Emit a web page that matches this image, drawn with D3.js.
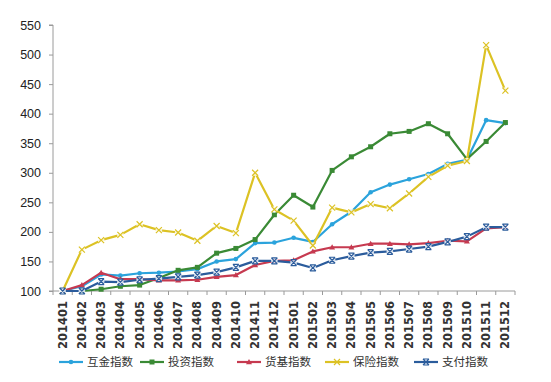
<!DOCTYPE html>
<html><head><meta charset="utf-8">
<script src="https://cdn.jsdelivr.net/npm/d3@7"></script>
<style>body{margin:0;background:#fff}svg{display:block}</style>
</head><body>
<svg id="c" width="551" height="382"></svg>
<script>
const categories = ["201401","201402","201403","201404","201405","201406","201407","201408","201409","201410","201411","201412","201501","201502","201503","201504","201505","201506","201507","201508","201509","201510","201511","201512"];
const hujin   = [100,108,128,126,130,131,133,137,150,154,181,182,190,183,213,234,267,280,289,298,315,322,389,384];
const touzi   = [100,100,103,108,110,122,135,140,164,172,187,229,262,242,304,327,344,366,370,383,366,323,353,385];
const huoji   = [100,110,131,120,120,118,118,119,124,127,144,151,152,167,174,174,180,180,179,181,185,184,206,208];
const baoxian = [100,170,186,195,213,203,199,185,210,198,300,238,219,177,241,233,247,240,265,293,312,320,516,439];
const zhifu   = [100,100,116,115,119,121,124,127,132,140,151,151,148,139,152,159,165,167,171,175,183,192,208,208];
const yTicks  = [100,150,200,250,300,350,400,450,500,550];
const seriesNames = ["互金指数","投资指数","货基指数","保险指数","支付指数"];

const series = [
  {name: seriesNames[0], values: hujin,   color: "#2ba3dc", marker: "diamond"},
  {name: seriesNames[1], values: touzi,   color: "#3a8a35", marker: "square"},
  {name: seriesNames[2], values: huoji,   color: "#c63a50", marker: "triangle"},
  {name: seriesNames[3], values: baoxian, color: "#dcc224", marker: "x"},
  {name: seriesNames[4], values: zhifu,   color: "#2b5c9c", marker: "xbox"}
];

const svg = d3.select("#c");
const m = {left: 53, top: 25, right: 36, bottom: 91};
const W = 551, H = 382;
const x = d3.scaleBand().domain(categories).range([m.left, W - m.right]);
const y = d3.scaleLinear().domain([100, 550]).range([H - m.bottom, m.top]);
const cx = d => x(d) + x.bandwidth() / 2;

// Y axis
const ya = svg.append("g").attr("transform", `translate(${m.left},0)`)
  .call(d3.axisLeft(y).tickValues(yTicks).tickSize(4).tickPadding(8));
ya.select(".domain").attr("stroke", "#9a9a9a").attr("d", `M-4,${y(100)}H0V${y(550)}H-4`);
ya.selectAll(".tick line").attr("stroke", "#9a9a9a");
ya.selectAll(".tick text").attr("font-family", "'Liberation Sans', Arial, sans-serif")
  .attr("font-size", 12.5).attr("fill", "#222");

// X axis
const xa = svg.append("g").attr("transform", `translate(0,${y(100)})`)
  .call(d3.axisBottom(x).tickSize(0).tickPadding(0));
xa.select(".domain").attr("stroke", "#9a9a9a").attr("d", `M${m.left},0H${W - m.right}`);
// band boundary ticks
xa.selectAll(".bt").data(d3.range(categories.length + 1)).enter().append("line")
  .attr("class", "bt")
  .attr("x1", i => m.left + i * x.step()).attr("x2", i => m.left + i * x.step())
  .attr("y1", 0).attr("y2", 4).attr("stroke", "#9a9a9a");
xa.selectAll(".tick text")
  .attr("transform", "rotate(-90)")
  .attr("x", -10).attr("y", 0).attr("dy", "0.35em")
  .attr("text-anchor", "end")
  .attr("font-family", "'DejaVu Sans', sans-serif")
  .attr("font-weight", "bold")
  .attr("font-size", 11.5).attr("fill", "#333");

// Lines
const line = d3.line().x((v, i) => cx(categories[i])).y(v => y(v));

function drawMarker(g, type, color, px, py) {
  if (type === "diamond") {
    g.append("circle").attr("cx", px).attr("cy", py).attr("r", 2.3).attr("fill", color);
  } else if (type === "square") {
    g.append("rect").attr("x", px - 2.5).attr("y", py - 2.5).attr("width", 5).attr("height", 5).attr("fill", color);
  } else if (type === "triangle") {
    g.append("path").attr("d", `M${px},${py-3}L${px+3},${py+2.2}L${px-3},${py+2.2}Z`).attr("fill", color);
  } else if (type === "x") {
    g.append("path").attr("d", `M${px-3},${py-3}L${px+3},${py+3}M${px+3},${py-3}L${px-3},${py+3}`)
      .attr("stroke", color).attr("stroke-width", 1.2);
  } else if (type === "xbox") {
    g.append("path").attr("d", `M${px-3},${py-3}L${px+3},${py+3}M${px+3},${py-3}L${px-3},${py+3}M${px-3},${py-3}H${px+3}M${px-3},${py+3}H${px+3}`)
      .attr("stroke", color).attr("stroke-width", 1.2).attr("fill", "none");
  }
}

series.forEach(s => {
  const g = svg.append("g");
  g.append("path").datum(s.values).attr("d", line)
    .attr("fill", "none").attr("stroke", s.color).attr("stroke-width", 2.2)
    .attr("stroke-linejoin", "round");
  s.values.forEach((v, i) => {
    const px = cx(categories[i]), py = y(v);
    if (s.marker === "x" || s.marker === "xbox") {
      g.append("circle").attr("cx", px).attr("cy", py).attr("r", 3.3).attr("fill", "#fff").attr("opacity", 0.8);
    }
    drawMarker(g, s.marker, s.color, px, py);
  });
});

// Legend
const legX = [59, 140, 237, 325, 414];
const legY = 362;
series.forEach((s, i) => {
  const g = svg.append("g");
  g.append("line").attr("x1", legX[i]).attr("x2", legX[i] + 24).attr("y1", legY).attr("y2", legY)
    .attr("stroke", s.color).attr("stroke-width", 2.2);
  drawMarker(g, s.marker, s.color, legX[i] + 12, legY);
  g.append("text").attr("x", legX[i] + 28).attr("y", legY).attr("dy", "0.36em")
    .attr("font-family", "'Noto Sans CJK SC', sans-serif").attr("font-size", 11.5)
    .attr("fill", "#333").text(s.name);
});
</script>
</body></html>
